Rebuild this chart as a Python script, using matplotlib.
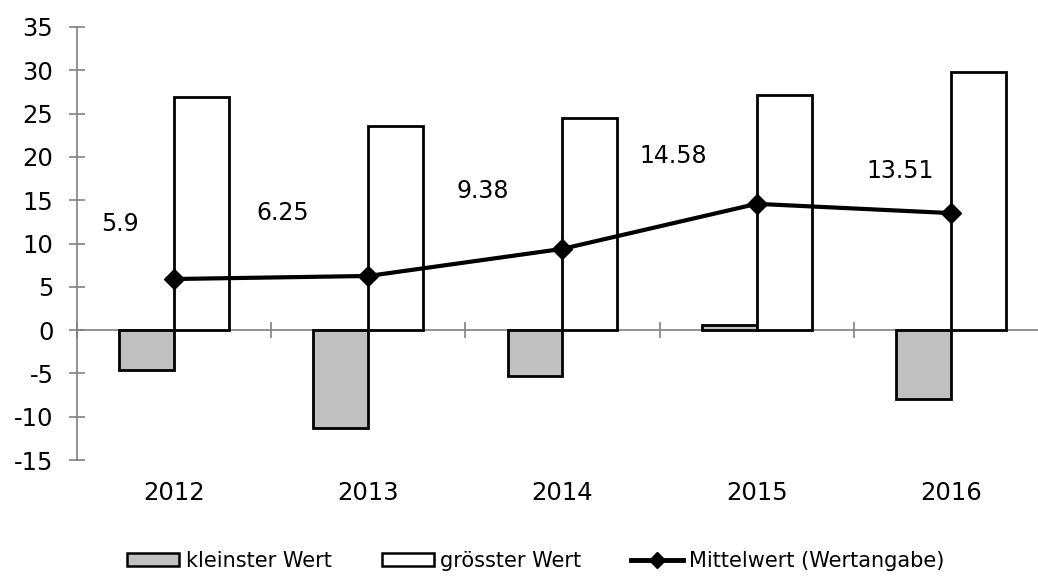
import matplotlib
matplotlib.use("Agg")
import matplotlib.pyplot as plt
import numpy as np
from matplotlib.lines import Line2D
from matplotlib.patches import Patch

years = ["2012", "2013", "2014", "2015", "2016"]
min_vals = [-4.6, -11.3, -5.3, 0.55, -7.9]
max_vals = [26.9, 23.6, 24.5, 27.2, 29.8]
mean_vals = [5.9, 6.25, 9.38, 14.58, 13.51]
mean_labels = ["5.9", "6.25", "9.38", "14.58", "13.51"]
yticks = [-15, -10, -5, 0, 5, 10, 15, 20, 25, 30, 35]

# label offsets (layout only): (dx in categories, dy in data units)
label_dx = [-0.28, -0.44, -0.41, -0.43, -0.26]
label_dy = [6.3, 7.3, 6.7, 5.5, 4.9]

plt.rcParams['font.family'] = ['DejaVu Sans']
fig = plt.figure(figsize=(10.38, 5.77), dpi=100)
ax = fig.add_axes([77/1038, 117/577, 971/1038, 433/577])

x = np.arange(len(years))
w = 0.283
ax.bar(x - w/2, min_vals, width=w, color="#c0c0c0", edgecolor="black", linewidth=2, zorder=3)
ax.bar(x + w/2, max_vals, width=w, color="white", edgecolor="black", linewidth=2, zorder=3)
ax.plot(x, mean_vals, color="black", linewidth=3, marker="D", markersize=10, zorder=5)

for i, t in enumerate(mean_labels):
    ax.text(x[i] + label_dx[i], mean_vals[i] + label_dy[i], t, ha="center", va="center", fontsize=17)

ax.set_xlim(-0.5, len(years) - 0.5)
ax.set_ylim(-15, 35)
ax.set_yticks(yticks)
ax.set_yticklabels([str(v) for v in yticks], fontsize=17.5)

for s in ["top", "right"]:
    ax.spines[s].set_visible(False)
ax.spines["left"].set_color("#808080")
ax.spines["bottom"].set_color("#808080")
ax.spines["bottom"].set_position(("data", 0))
ax.spines["left"].set_linewidth(1.2)
ax.spines["bottom"].set_linewidth(1.2)

ax.tick_params(axis="y", direction="inout", length=12, width=1.2, color="#808080", pad=11)
ax.set_xticks(np.arange(len(years) + 1) - 0.5)
ax.set_xticklabels([])
ax.tick_params(axis="x", direction="inout", length=12, width=1.2, color="#808080")

for i, y in enumerate(years):
    ax.text(x[i], -0.076, y, transform=ax.get_xaxis_transform(), ha="center", va="center", fontsize=17.5)

handles = [
    Patch(facecolor="#c0c0c0", edgecolor="black", linewidth=1.8),
    Patch(facecolor="white", edgecolor="black", linewidth=1.8),
    Line2D([0], [0], color="black", linewidth=3.5, marker="D", markersize=8),
]
labels = ["kleinster Wert", "grösster Wert", "Mittelwert (Wertangabe)"]
fig.legend(handles, labels, loc="center", bbox_to_anchor=(536/1038, 1 - 561/577), ncol=3,
           frameon=False, fontsize=15, handlelength=2.5, handleheight=0.62,
           handletextpad=0.3, columnspacing=2.4)

fig.savefig("out.png", dpi=100)
